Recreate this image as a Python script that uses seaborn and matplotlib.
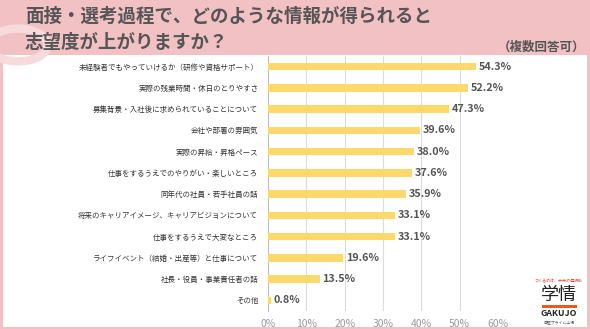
import matplotlib
matplotlib.use("Agg")
import matplotlib.pyplot as plt
import seaborn as sns
import pandas as pd
from matplotlib.patches import Rectangle, Circle

categories = [
    "未経験者でもやっていけるか（研修や資格サポート）",
    "実際の残業時間・休日のとりやすさ",
    "募集背景・入社後に求められていることについて",
    "会社や部署の雰囲気",
    "実際の昇給・昇格ペース",
    "仕事をするうえでのやりがい・楽しいところ",
    "同年代の社員・若手社員の話",
    "将来のキャリアイメージ、キャリアビジョンについて",
    "仕事をするうえで大変なところ",
    "ライフイベント（結婚・出産等）と仕事について",
    "社長・役員・事業責任者の話",
    "その他",
]
values = [54.3, 52.2, 47.3, 39.6, 38.0, 37.6, 35.9, 33.1, 33.1, 19.6, 13.5, 0.8]
xticks = [0, 10, 20, 30, 40, 50, 60]
xtick_labels = ["0%", "10%", "20%", "30%", "40%", "50%", "60%"]

sns.set_theme(style="white")
plt.rcParams['font.family'] = ['Noto Sans CJK JP', 'DejaVu Sans']

W, H = 590, 329
fig = plt.figure(figsize=(W / 100, H / 100), dpi=100)
fig.patch.set_facecolor("#f2c1c4")

# white panel
fig.add_artist(Rectangle((3 / W, 1 - 327 / H), (587 - 3) / W, (327 - 55) / H,
                         transform=fig.transFigure, facecolor="white", edgecolor="none", zorder=0))
# decorative faint circle in header
fig.add_artist(Circle((18 / W, 1 - 45 / H), 0.05, transform=fig.transFigure,
                      facecolor="none", edgecolor="#f7dadc", linewidth=6, zorder=0))

df = pd.DataFrame({"cat": categories, "val": values})

ax = fig.add_axes([268 / W, 1 - 311 / H, (498 - 268) / W, (311 - 56) / H])
sns.barplot(data=df, x="val", y="cat", color="#fdd86b", width=0.35, ax=ax,
            saturation=1, edgecolor="none", zorder=3)
ax.set_facecolor("none")
ax.set_xlim(0, 60)
ax.set_xticks(xticks)
ax.set_xticklabels(xtick_labels, fontsize=7.5, color="#9a9a9a")
ax.set_xlabel("")
ax.set_ylabel("")
ax.tick_params(axis="y", labelsize=5.4, labelcolor="#333333", length=0, pad=7)
ax.tick_params(axis="x", length=0, pad=6)
ax.grid(axis="x", color="#dcdcdc", linewidth=0.8, zorder=0)
for s in ["top", "right", "bottom"]:
    ax.spines[s].set_visible(False)
ax.spines["left"].set_color("#bfbfbf")
ax.spines["left"].set_linewidth(0.8)

for i, v in enumerate(values):
    ax.text(v + 0.7, i, f"{v:.1f}%", va="center", ha="left", fontsize=7.8,
            fontweight="bold", color="#555555", clip_on=False)

# title
fig.text(25 / W, 1 - 16 / H, "面接・選考過程で、どのような情報が得られると",
         fontsize=13.3, fontweight="bold", color="#555555", va="center", ha="left")
fig.text(25 / W, 1 - 43 / H, "志望度が上がりますか？",
         fontsize=13.3, fontweight="bold", color="#555555", va="center", ha="left")
fig.text(585 / W, 1 - 47 / H, "（複数回答可）", fontsize=9, fontweight="bold",
         color="#555555", va="center", ha="right")

# logo
fig.text(559 / W, 1 - 281 / H, "つくるのは、未来の選択肢", fontsize=2.9, color="#e8472e",
         ha="center", va="center")
fig.text(559 / W, 1 - 295 / H, "学情", fontsize=13, color="#222222",
         ha="center", va="center")
fig.add_artist(Rectangle((542 / W, 1 - 308 / H), 35 / W, 3.5 / H, transform=fig.transFigure,
                         facecolor="#ea5a1e", edgecolor="none"))
fig.text(559 / W, 1 - 314 / H, "GAKUJO", fontsize=6.3, fontweight="bold", color="#222222",
         ha="center", va="center")
fig.text(559 / W, 1 - 322 / H, "東証プライム上場", fontsize=2.8, color="#555555",
         ha="center", va="center")

fig.savefig("out.png", dpi=100, facecolor=fig.get_facecolor())
